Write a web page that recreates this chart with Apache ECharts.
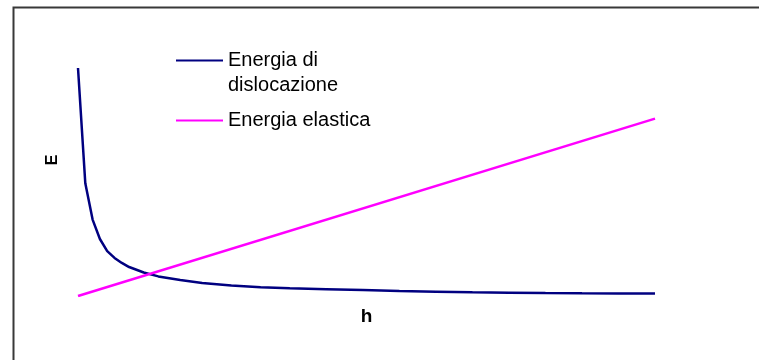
<!DOCTYPE html>
<html>
<head>
<meta charset="utf-8">
<script src="https://cdn.jsdelivr.net/npm/echarts@6/dist/echarts.min.js"></script>
<style>
  html, body { margin: 0; padding: 0; background: #fff; }
  #main { width: 759px; height: 360px; }
</style>
</head>
<body>
<div id="main"></div>
<script>
// values (h in arbitrary units, E scaled 0..100)
var dislocH = [1, 2, 3, 4, 5, 6, 7, 8, 10, 12, 15, 18, 22, 26, 30, 35, 40, 45, 50, 55, 60, 65, 70, 75, 80];
var dislocE = [100, 49.4, 33.5, 25, 19.7, 16.7, 14.5, 12.7, 10.3, 8.6, 7.0, 5.7, 4.6, 3.8, 3.4, 3.0, 2.6, 2.2, 1.9, 1.6, 1.45, 1.3, 1.2, 1.15, 1.1];
var elasticH = [1, 80];
var elasticE = [0, 77.8];

var nameDisloc = 'Energia di\ndislocazione';
var nameElastic = 'Energia elastica';

function pairs(xs, ys) {
    var out = [];
    for (var i = 0; i < xs.length; i++) {
        out.push([xs[i], ys[i]]);
    }
    return out;
}

var myChart = echarts.init(document.getElementById('main'));

var font = 'Liberation Sans, Arial, sans-serif';
var legendText = {
    fontFamily: font,
    fontSize: 20,
    lineHeight: 25,
    color: '#000'
};

var option = {
    backgroundColor: '#fff',
    animation: false,
    grid: { left: 78, right: 104, top: 68, bottom: 64 },
    xAxis: {
        type: 'value',
        min: 1,
        max: 80,
        name: 'h',
        nameLocation: 'middle',
        nameGap: 11,
        nameTextStyle: {
            fontFamily: font,
            fontSize: 19,
            fontWeight: 'bold',
            color: '#000'
        },
        axisLine: { show: false },
        axisTick: { show: false },
        axisLabel: { show: false },
        splitLine: { show: false }
    },
    yAxis: {
        type: 'value',
        min: 0,
        max: 100,
        axisLine: { show: false },
        axisTick: { show: false },
        axisLabel: { show: false },
        splitLine: { show: false }
    },
    legend: [{
        data: [nameDisloc],
        orient: 'vertical',
        left: 176,
        top: 23,
        padding: 0,
        icon: 'rect',
        itemWidth: 47,
        itemHeight: 2,
        selectedMode: false,
        // blank first line so the marker sits beside the first line of text
        formatter: function (name) {
            return ' \n' + name;
        },
        textStyle: legendText
    }, {
        data: [nameElastic],
        orient: 'vertical',
        left: 176,
        top: 108,
        padding: 0,
        icon: 'rect',
        itemWidth: 47,
        itemHeight: 2,
        selectedMode: false,
        textStyle: legendText
    }],
    graphic: [{
        type: 'rect',
        left: 11,
        top: 5,
        shape: { width: 800, height: 400 },
        style: { fill: 'none', stroke: '#383838', lineWidth: 2 },
        silent: true
    }, {
        type: 'text',
        x: 53,
        y: 160,
        rotation: Math.PI / 2,
        style: {
            text: 'E',
            fontFamily: font,
            fontSize: 16,
            fontWeight: 'bold',
            fill: '#000',
            align: 'center',
            verticalAlign: 'middle'
        }
    }],
    series: [{
        name: nameDisloc,
        type: 'line',
        data: pairs(dislocH, dislocE),
        symbol: 'none',
        itemStyle: { color: '#000080' },
        lineStyle: { color: '#000080', width: 2.5 }
    }, {
        name: nameElastic,
        type: 'line',
        data: pairs(elasticH, elasticE),
        symbol: 'none',
        itemStyle: { color: '#ff00ff' },
        lineStyle: { color: '#ff00ff', width: 2.5 }
    }]
};

myChart.setOption(option);
</script>
</body>
</html>
